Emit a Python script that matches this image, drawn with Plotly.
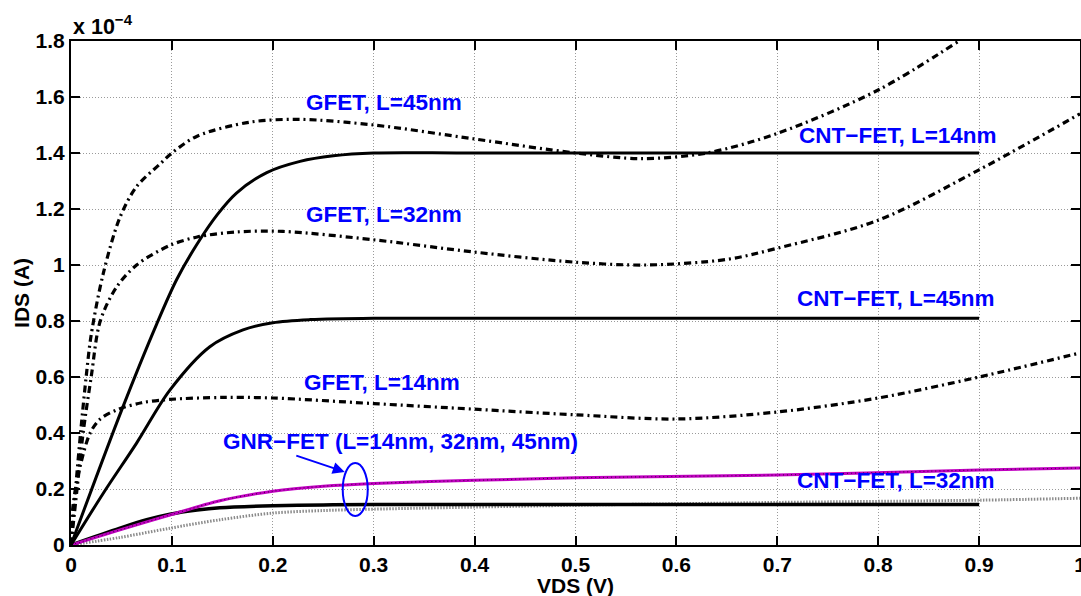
import plotly.graph_objects as go

# values in units of 1e-4 A
vds_gfet45 = [0, 0.005, 0.01, 0.015, 0.02, 0.032, 0.0485, 0.065, 0.088, 0.10, 0.125, 0.177, 0.227, 0.30, 0.40, 0.50, 0.565, 0.63, 0.70, 0.80, 0.88]
ids_gfet45 = [0, 0.22, 0.42, 0.60, 0.75, 0.97, 1.17, 1.28, 1.36, 1.40, 1.46, 1.51, 1.52, 1.50, 1.45, 1.40, 1.38, 1.40, 1.47, 1.625, 1.80]

vds_gfet32 = [0, 0.006, 0.012, 0.02, 0.029, 0.045, 0.065, 0.098, 0.125, 0.164, 0.21, 0.30, 0.40, 0.50, 0.57, 0.65, 0.70, 0.80, 0.90, 1.00]
ids_gfet32 = [0, 0.20, 0.40, 0.60, 0.80, 0.92, 1.00, 1.07, 1.10, 1.118, 1.12, 1.09, 1.046, 1.01, 1.00, 1.02, 1.06, 1.16, 1.34, 1.54]

vds_gfet14 = [0, 0.002, 0.009, 0.019, 0.029, 0.045, 0.07, 0.098, 0.15, 0.20, 0.30, 0.40, 0.50, 0.60, 0.70, 0.80, 0.90, 1.00]
ids_gfet14 = [0, 0.14, 0.28, 0.40, 0.45, 0.482, 0.508, 0.52, 0.527, 0.525, 0.505, 0.485, 0.465, 0.45, 0.475, 0.525, 0.60, 0.686]

vds_cnt14 = [0, 0.05, 0.085, 0.105, 0.125, 0.145, 0.164, 0.194, 0.227, 0.26, 0.30, 0.40, 0.90]
ids_cnt14 = [0, 0.48, 0.79, 0.95, 1.075, 1.18, 1.257, 1.33, 1.37, 1.39, 1.40, 1.40, 1.40]

vds_cnt45 = [0, 0.032, 0.065, 0.098, 0.1376, 0.1705, 0.20, 0.237, 0.30, 0.40, 0.90]
ids_cnt45 = [0, 0.185, 0.364, 0.553, 0.708, 0.768, 0.794, 0.805, 0.81, 0.81, 0.81]

vds_cnt32 = [0, 0.0485, 0.075, 0.098, 0.125, 0.1475, 0.20, 0.25, 0.30, 0.90]
ids_cnt32 = [0, 0.06, 0.09, 0.11, 0.125, 0.133, 0.14, 0.143, 0.145, 0.145]

vds_gnr = [0, 0.0485, 0.098, 0.1475, 0.20, 0.25, 0.30, 0.40, 0.50, 0.70, 0.90, 1.00]
ids_gnr = [0, 0.054, 0.107, 0.158, 0.192, 0.21, 0.22, 0.231, 0.24, 0.25, 0.268, 0.275]

vds_gnr2 = [0, 0.0485, 0.098, 0.1475, 0.20, 0.25, 0.30, 0.50, 0.70, 0.90, 1.00]
ids_gnr2 = [0, 0.027, 0.06, 0.09, 0.114, 0.123, 0.128, 0.142, 0.152, 0.16, 0.167]

x_ticks = [0, 0.1, 0.2, 0.3, 0.4, 0.5, 0.6, 0.7, 0.8, 0.9, 1.0]
x_tick_labels = ["0", "0.1", "0.2", "0.3", "0.4", "0.5", "0.6", "0.7", "0.8", "0.9", "1"]
y_ticks = [0, 0.2, 0.4, 0.6, 0.8, 1.0, 1.2, 1.4, 1.6, 1.8]
y_tick_labels = ["0", "0.2", "0.4", "0.6", "0.8", "1", "1.2", "1.4", "1.6", "1.8"]

FONT = "Liberation Sans, Arial, Helvetica, sans-serif"
BLUE = "#0000ff"
DASHDOT = "7px,4px,2px,4px"

fig = go.Figure()

def add(x, y, color, width, dash="solid", shape="spline"):
    fig.add_trace(go.Scatter(x=x, y=y, mode="lines",
                             line=dict(color=color, width=width, dash=dash, shape=shape, smoothing=0.9),
                             showlegend=False, hoverinfo="skip"))

add(vds_gnr2, ids_gnr2, "#8a8a8a", 3, "1.5px,1.5px")
add(vds_cnt32, ids_cnt32, "black", 3.5)
add(vds_gnr, ids_gnr, "#c000c0", 3)
add(vds_gnr, ids_gnr, "#500050", 1.2, "1px,3px")
add(vds_cnt45, ids_cnt45, "black", 3)
add(vds_cnt14, ids_cnt14, "black", 3)
add(vds_gfet14, ids_gfet14, "black", 3.2, DASHDOT)
add(vds_gfet32, ids_gfet32, "black", 3.2, DASHDOT)
add(vds_gfet45, ids_gfet45, "black", 3.2, DASHDOT)

labels = [
    ("GFET, L=45nm", 0.31, 1.579),
    ("GFET, L=32nm", 0.31, 1.179),
    ("GFET, L=14nm", 0.308, 0.582),
    ("CNT\u2212FET, L=14nm", 0.82, 1.461),
    ("CNT\u2212FET, L=45nm", 0.818, 0.882),
    ("CNT\u2212FET, L=32nm", 0.818, 0.232),
    ("GNR\u2212FET (L=14nm, 32nm, 45nm)", 0.327, 0.371),
]
for txt, x, y in labels:
    fig.add_annotation(x=x, y=y, xref="x", yref="y", text="<b>" + txt + "</b>",
                       showarrow=False, font=dict(family=FONT, size=22.5, color=BLUE),
                       xanchor="center", yanchor="middle")

# arrow
fig.add_annotation(x=0.2713, y=0.261, ax=0.2218, ay=0.321, xref="x", yref="y",
                   axref="x", ayref="y", text="", showarrow=True,
                   arrowhead=2, arrowsize=1.2, arrowwidth=2, arrowcolor=BLUE)
# ellipse
fig.add_shape(type="circle", xref="x", yref="y", x0=0.2693, x1=0.2941, y0=0.1036, y1=0.293,
              line=dict(color=BLUE, width=2))

# exponent label
fig.add_annotation(xref="paper", yref="paper", x=0.0, y=1.0, xanchor="left", yanchor="bottom",
                   text="<b>x 10<sup>\u22124</sup></b>", showarrow=False,
                   font=dict(family=FONT, size=21.5, color="black"), yshift=0)
# axis titles
fig.add_annotation(xref="paper", yref="paper", x=0.5, y=-0.081, xanchor="center", yanchor="middle",
                   text="<b>VDS (V)</b>", showarrow=False, font=dict(family=FONT, size=21, color="black"))
fig.add_annotation(xref="paper", yref="paper", x=-0.0496, y=0.5, xanchor="center", yanchor="middle",
                   text="<b>IDS (A)</b>", showarrow=False, textangle=-90,
                   font=dict(family=FONT, size=21, color="black"))

axis_common = dict(showline=True, linecolor="black", linewidth=2, mirror="ticks",
                   ticks="inside", ticklen=9, tickwidth=2, tickcolor="black",
                   showgrid=True, gridcolor="#9a9a9a", gridwidth=1, griddash="1px,2px",
                   zeroline=False, ticklabeloverflow="allow", automargin=False,
                   tickfont=dict(family=FONT, size=21, color="black"))

fig.update_xaxes(range=[0, 1], tickvals=x_ticks, ticktext=["<b>%s</b>" % t for t in x_tick_labels],
                 **axis_common)
fig.update_yaxes(range=[0, 1.8], tickvals=y_ticks, ticktext=["<b>%s</b>" % t for t in y_tick_labels],
                 **axis_common)

fig.update_layout(width=1081, height=596, margin=dict(l=71, r=1, t=41, b=51),
                  paper_bgcolor="white", plot_bgcolor="white", showlegend=False)

fig.write_html("out.html", config={"displayModeBar": False})
